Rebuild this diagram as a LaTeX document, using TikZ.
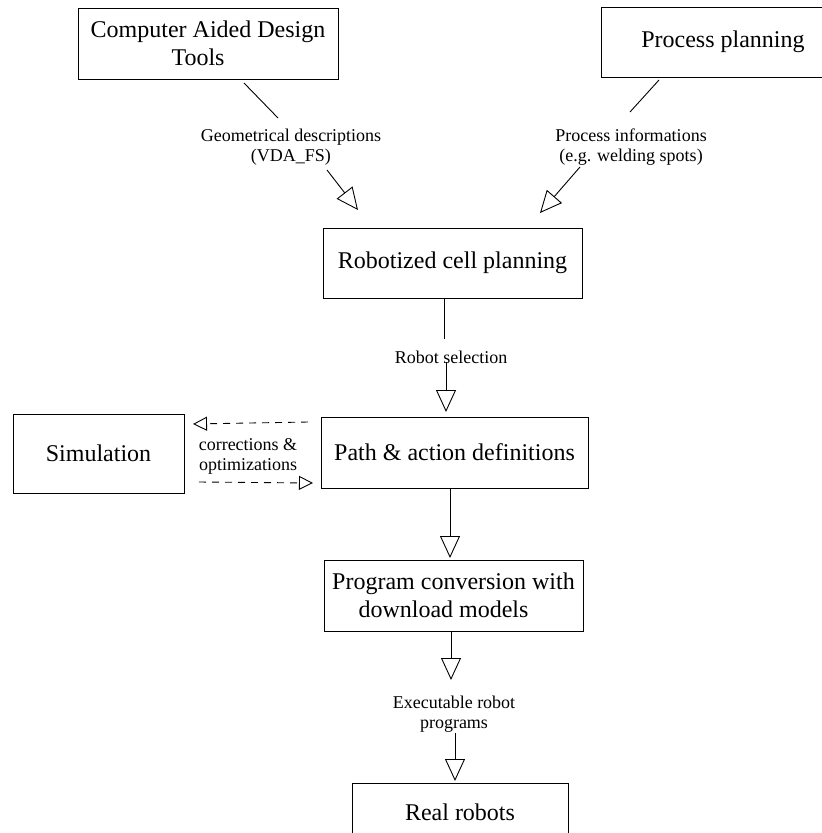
\documentclass[tikz,border=0pt]{standalone}
\usepackage{fontspec}
\setmainfont{Liberation Serif}
\usetikzlibrary{arrows.meta}
\begin{document}
\begin{tikzpicture}[x=1pt,y=-1pt,
 box/.style={draw, line width=0.9pt, inner sep=0pt, align=center, font=\fontsize{24}{28}\selectfont},
 lbl/.style={inner sep=0pt, align=center, font=\fontsize{18}{20}\selectfont},
 conn/.style={line width=0.9pt},
 arr/.style={conn, -{Triangle[open, length=22pt, width=20pt, fill=white]}},
 darr/.style={conn, dash pattern=on 7pt off 6pt, -{Triangle[open, length=14pt, width=14pt, fill=white]}}]
\clip (0,0) rectangle (822,833);
\fill[white] (0,0) rectangle (822,833);
% boxes
\node[box, minimum width=260pt, minimum height=71pt] (cad) at (208,43.5) {Computer Aided Design\\Tools\rule{20pt}{0pt}};
\node[box, minimum width=244pt, minimum height=70pt] (proc) at (723,42) {Process planning};
\node[box, minimum width=259pt, minimum height=70pt] (cell) at (452.5,263) {\raisebox{-4pt}{Robotized cell planning}};
\node[box, minimum width=267pt, minimum height=71pt] (path) at (454.5,452.5) {\raisebox{-4pt}{Path \& action definitions}};
\node[box, minimum width=171pt, minimum height=79pt] (sim) at (98.5,453.5) {Simulation};
\node[box, minimum width=259pt, minimum height=71pt] (prog) at (453.5,595.5) {Program conversion with\\download models\rule{20pt}{0pt}};
\node[box, minimum width=216pt, minimum height=58pt] (real) at (460,812) {Real robots};
% labels
\node[lbl] (gl) at (291,147) {Geometrical descriptions\\(VDA\_FS)};
\node[lbl] (pl) at (631,147) {Process informations\\(e.g. welding spots)};
\node[lbl] (rs) at (451,357) {Robot selection};
\node[lbl] (co) at (248,456) {corrections \&\\optimizations};
\node[lbl] (ex) at (454,714) {Executable robot\\programs};
% connector points
\coordinate (a1) at (244,83);
\coordinate (a2) at (278,118);
\coordinate (a3) at (327,170);
\coordinate (a4) at (358,210);
\coordinate (b1) at (659,80);
\coordinate (b2) at (630,112);
\coordinate (b3) at (580,167);
\coordinate (b4) at (540,213);
\coordinate (r1) at (444,298);
\coordinate (r2) at (444,339);
\coordinate (r3) at (446,362);
\coordinate (r4) at (446,412);
\coordinate (p1) at (450,488);
\coordinate (p2) at (450,558);
\coordinate (e1) at (451,631);
\coordinate (e2) at (451,680);
\coordinate (e3) at (455,733);
\coordinate (e4) at (455,781);
\coordinate (d1) at (308,422);
\coordinate (d2) at (193,424);
\coordinate (d3) at (199,482);
\coordinate (d4) at (313,483);
% connectors
\draw[conn] (a1) -- (a2);
\draw[arr] (a3) -- (a4);
\draw[conn] (b1) -- (b2);
\draw[arr] (b3) -- (b4);
\draw[conn] (r1) -- (r2);
\draw[arr] (r3) -- (r4);
\draw[arr] (p1) -- (p2);
\draw[arr] (e1) -- (e2);
\draw[arr] (e3) -- (e4);
\draw[darr] (d1) -- (d2);
\draw[darr] (d3) -- (d4);
\end{tikzpicture}
\end{document}
